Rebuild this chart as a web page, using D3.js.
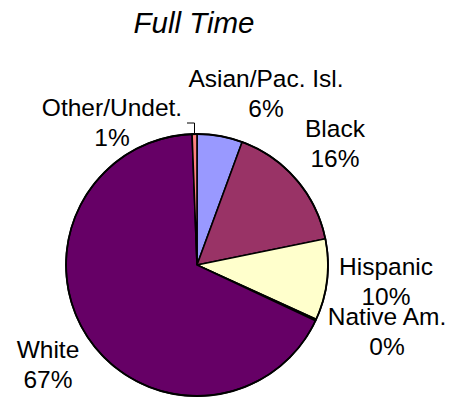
<!DOCTYPE html>
<html>
<head>
<meta charset="utf-8">
<script src="https://cdn.jsdelivr.net/npm/d3@7"></script>
<style>
  html, body { margin: 0; padding: 0; background: #fff; }
  svg { display: block; }
  text { font-family: "Liberation Sans", Arial, sans-serif; fill: #000; }
</style>
</head>
<body>
<svg id="chart" width="449" height="398"></svg>
<script>
const title = "Full Time";
const categories = ["Asian/Pac. Isl.", "Black", "Hispanic", "Native Am.", "White", "Other/Undet."];
const values = [5.6, 16.2, 10.0, 0.2, 67.4, 0.6];
const percentLabels = ["6%", "16%", "10%", "0%", "67%", "1%"];
const colors = ["#9999FF", "#993366", "#FFFFCC", "#CCFFFF", "#660066", "#FF8080"];

// label layout (centre x, first baseline y) — layout, not data
const labelPos = [[266, 87], [335, 137], [386, 275], [387, 325], [48, 358], [112, 116]];

const svg = d3.select("#chart");
const W = 449, H = 398;
const cx = 197, cy = 265, R = 131;

svg.append("text")
  .attr("x", 194).attr("y", 33)
  .attr("text-anchor", "middle")
  .style("font-size", "29.5px")
  .style("font-style", "italic")
  .text(title);

const data = categories.map((c, i) => ({ cat: c, value: values[i], pct: percentLabels[i], color: colors[i], i }));

const pie = d3.pie().sort(null).value(d => d.value).startAngle(0).endAngle(2 * Math.PI);
const arc = d3.arc().innerRadius(0).outerRadius(R);

const g = svg.append("g").attr("transform", `translate(${cx},${cy})`);
g.selectAll("path")
  .data(pie(data))
  .join("path")
  .attr("d", arc)
  .attr("fill", d => d.data.color)
  .attr("stroke", "#000")
  .attr("stroke-width", 1.6)
  .attr("stroke-linejoin", "miter");

// outer rim
g.append("circle").attr("r", R).attr("fill", "none").attr("stroke", "#000").attr("stroke-width", 1.8);

// leader line for Other/Undet.
const arcs = pie(data);
const other = arcs[5];
const mid = (other.startAngle + other.endAngle) / 2;
const ex = cx + Math.sin(mid) * (R + 1), ey = cy - Math.cos(mid) * (R + 1);
svg.append("polyline")
  .attr("points", `187,123 ${ex},123 ${ex},${ey}`)
  .attr("fill", "none")
  .attr("stroke", "#000")
  .attr("stroke-width", 1);

const lbl = svg.append("g");
data.forEach((d, i) => {
  const [x, y] = labelPos[i];
  const t = lbl.append("text")
    .attr("x", x).attr("y", y)
    .attr("text-anchor", "middle")
    .style("font-size", "24.5px");
  t.append("tspan").attr("x", x).text(d.cat);
  t.append("tspan").attr("x", x).attr("dy", 30).text(d.pct);
});
</script>
</body>
</html>
